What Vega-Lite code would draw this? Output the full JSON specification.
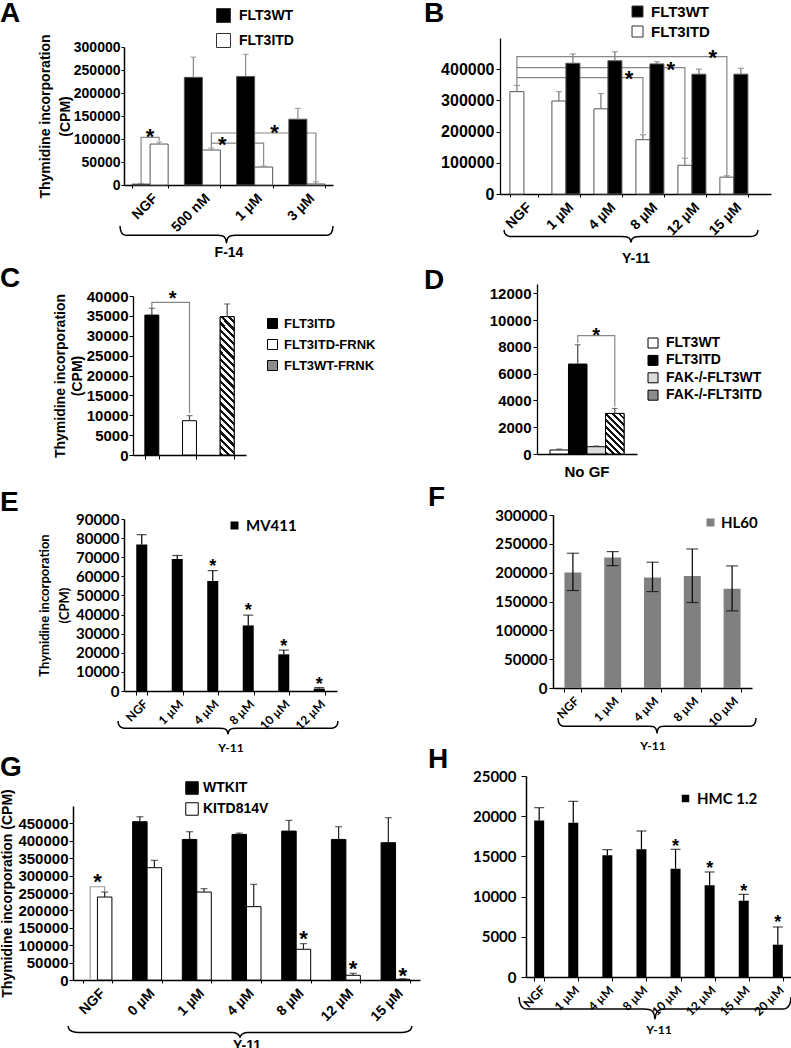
{
"$schema": "https://vega.github.io/schema/vega-lite/v6.json",
"padding": 0,
"background": "white",
"datasets": {
"brace": [{"x":0,"y":0},{"x":0.002,"y":0.2},{"x":0.007,"y":0.38},{"x":0.015,"y":0.49},{"x":0.03,"y":0.55},{"x":0.46,"y":0.55},{"x":0.478,"y":0.57},{"x":0.49,"y":0.65},{"x":0.497,"y":0.8},{"x":0.5,"y":1},{"x":0.503,"y":0.8},{"x":0.51,"y":0.65},{"x":0.522,"y":0.57},{"x":0.54,"y":0.55},{"x":0.97,"y":0.55},{"x":0.985,"y":0.49},{"x":0.993,"y":0.38},{"x":0.998,"y":0.2},{"x":1,"y":0}],
"A_bars": [
{"cat":"NGF","grp":"FLT3WT","v":2000,"hi":3600},
{"cat":"NGF","grp":"FLT3ITD","v":89000,"hi":93500},
{"cat":"500 nM","grp":"FLT3WT","v":234000,"hi":278000},
{"cat":"500 nM","grp":"FLT3ITD","v":76000,"hi":80500},
{"cat":"1 µM","grp":"FLT3WT","v":236000,"hi":284000},
{"cat":"1 µM","grp":"FLT3ITD","v":39000,"hi":41500},
{"cat":"3 µM","grp":"FLT3WT","v":143000,"hi":166500},
{"cat":"3 µM","grp":"FLT3ITD","v":2200,"hi":7000}],
"A_br": [
{"b":1,"o":1,"cat":"NGF","grp":"FLT3WT","v":4000},
{"b":1,"o":2,"cat":"NGF","grp":"FLT3WT","v":103500},
{"b":1,"o":3,"cat":"NGF","grp":"FLT3ITD","v":103500},
{"b":1,"o":4,"cat":"NGF","grp":"FLT3ITD","v":96000},
{"b":2,"o":1,"cat":"500 nM","grp":"FLT3ITD","v":82000},
{"b":2,"o":2,"cat":"500 nM","grp":"FLT3ITD","v":91000},
{"b":2,"o":3,"cat":"1 µM","grp":"FLT3ITD","v":91000},
{"b":2,"o":4,"cat":"1 µM","grp":"FLT3ITD","v":43000},
{"b":3,"o":1,"cat":"500 nM","grp":"FLT3ITD","v":91000},
{"b":3,"o":2,"cat":"500 nM","grp":"FLT3ITD","v":113000},
{"b":3,"o":3,"cat":"3 µM","grp":"FLT3ITD","v":113000},
{"b":3,"o":4,"cat":"3 µM","grp":"FLT3ITD","v":8000}],
"A_st1": [{"cat":"NGF","v":116000}],
"A_st2": [{"cat":"500 nM","v":98500},{"cat":"1 µM","v":124000}],
"B_bars": [
{"cat":"NGF","grp":"FLT3ITD","v":328000,"hi":348000},
{"cat":"1 µM","grp":"FLT3ITD","v":298000,"hi":328000},
{"cat":"1 µM","grp":"FLT3WT","v":419000,"hi":449000},
{"cat":"4 µM","grp":"FLT3ITD","v":273000,"hi":322000},
{"cat":"4 µM","grp":"FLT3WT","v":427000,"hi":456000},
{"cat":"8 µM","grp":"FLT3ITD","v":174000,"hi":190000},
{"cat":"8 µM","grp":"FLT3WT","v":417000,"hi":424000},
{"cat":"12 µM","grp":"FLT3ITD","v":92000,"hi":115000},
{"cat":"12 µM","grp":"FLT3WT","v":384000,"hi":400000},
{"cat":"15 µM","grp":"FLT3ITD","v":54000,"hi":58500},
{"cat":"15 µM","grp":"FLT3WT","v":384000,"hi":403000}],
"B_br": [
{"b":1,"o":1,"cat":"NGF","grp":"FLT3ITD","v":350000},
{"b":1,"o":2,"cat":"NGF","grp":"FLT3ITD","v":373000},
{"b":1,"o":3,"cat":"8 µM","grp":"FLT3ITD","v":373000},
{"b":1,"o":4,"cat":"8 µM","grp":"FLT3ITD","v":193000},
{"b":2,"o":1,"cat":"NGF","grp":"FLT3ITD","v":373000},
{"b":2,"o":2,"cat":"NGF","grp":"FLT3ITD","v":405000},
{"b":2,"o":3,"cat":"12 µM","grp":"FLT3ITD","v":405000},
{"b":2,"o":4,"cat":"12 µM","grp":"FLT3ITD","v":118000},
{"b":3,"o":1,"cat":"NGF","grp":"FLT3ITD","v":405000},
{"b":3,"o":2,"cat":"NGF","grp":"FLT3ITD","v":440000},
{"b":3,"o":3,"cat":"15 µM","grp":"FLT3ITD","v":440000},
{"b":3,"o":4,"cat":"15 µM","grp":"FLT3ITD","v":61000}],
"B_st": [{"cat":"4 µM","v":385000},{"cat":"8 µM","v":414000},{"cat":"12 µM","v":453000}],
"C_bars": [
{"grp":"FLT3ITD","v":35200,"hi":36900},
{"grp":"FLT3ITD-FRNK","v":8630,"hi":9900},
{"grp":"FLT3WT-FRNK","v":34800,"hi":38000}],
"C_br": [
{"b":1,"o":1,"grp":"FLT3ITD","v":37000},
{"b":1,"o":2,"grp":"FLT3ITD","v":38400},
{"b":1,"o":3,"grp":"FLT3ITD-FRNK","v":38400},
{"b":1,"o":4,"grp":"FLT3ITD-FRNK","v":10500}],
"C_st": [{"grp":"FLT3ITD","v":40500}],
"D_bars": [
{"cat":"No GF","grp":"FLT3WT","v":300,"hi":370},
{"cat":"No GF","grp":"FLT3ITD","v":6720,"hi":8160},
{"cat":"No GF","grp":"FAK-/-FLT3WT","v":545,"hi":600},
{"cat":"No GF","grp":"FAK-/-FLT3ITD","v":3030,"hi":3400}],
"D_br": [
{"b":1,"o":1,"cat":"No GF","grp":"FLT3ITD","v":8300},
{"b":1,"o":2,"cat":"No GF","grp":"FLT3ITD","v":8840},
{"b":1,"o":3,"cat":"No GF","grp":"FAK-/-FLT3ITD","v":8840},
{"b":1,"o":4,"cat":"No GF","grp":"FAK-/-FLT3ITD","v":3550}],
"D_st": [{"cat":"No GF","grp":"FAK-/-FLT3WT","v":9200}],
"E_bars": [
{"cat":"NGF","grp":"MV411","v":76600,"hi":81800},
{"cat":"1 µM","grp":"MV411","v":69100,"hi":70900},
{"cat":"4 µM","grp":"MV411","v":57500,"hi":63000},
{"cat":"8 µM","grp":"MV411","v":34300,"hi":39700},
{"cat":"10 µM","grp":"MV411","v":19200,"hi":21400},
{"cat":"12 µM","grp":"MV411","v":1250,"hi":1800}],
"E_st": [{"cat":"4 µM","v":67000},{"cat":"8 µM","v":43900},{"cat":"10 µM","v":24900},{"cat":"12 µM","v":5200}],
"F_bars": [
{"cat":"NGF","grp":"HL60","v":200100,"lo":169000,"hi":233700},
{"cat":"1 µM","grp":"HL60","v":226100,"lo":212200,"hi":236500},
{"cat":"4 µM","grp":"HL60","v":191500,"lo":167200,"hi":218100},
{"cat":"8 µM","grp":"HL60","v":194400,"lo":148200,"hi":241100},
{"cat":"10 µM","grp":"HL60","v":171900,"lo":133800,"hi":211700}],
"G_bars": [
{"cat":"NGF","grp":"KITD814V","v":238400,"hi":252700},
{"cat":"0 µM","grp":"WTKIT","v":454800,"hi":469200},
{"cat":"0 µM","grp":"KITD814V","v":322700,"hi":343800},
{"cat":"1 µM","grp":"WTKIT","v":404000,"hi":426100},
{"cat":"1 µM","grp":"KITD814V","v":252700,"hi":262400},
{"cat":"4 µM","grp":"WTKIT","v":418400,"hi":422100},
{"cat":"4 µM","grp":"KITD814V","v":210800,"hi":274800},
{"cat":"8 µM","grp":"WTKIT","v":427900,"hi":458600},
{"cat":"8 µM","grp":"KITD814V","v":88200,"hi":104500},
{"cat":"12 µM","grp":"WTKIT","v":404000,"hi":440500},
{"cat":"12 µM","grp":"KITD814V","v":13500,"hi":19200},
{"cat":"15 µM","grp":"WTKIT","v":394600,"hi":466400},
{"cat":"15 µM","grp":"KITD814V","v":2000,"hi":3500}],
"G_br": [
{"b":1,"o":1,"cat":"NGF","grp":"WTKIT","v":2000},
{"b":1,"o":2,"cat":"NGF","grp":"WTKIT","v":268000},
{"b":1,"o":3,"cat":"NGF","grp":"KITD814V","v":268000},
{"b":1,"o":4,"cat":"NGF","grp":"KITD814V","v":255000}],
"G_st1": [{"cat":"NGF","v":297000}],
"G_st2": [{"cat":"8 µM","grp":"KITD814V","v":131000},{"cat":"12 µM","grp":"KITD814V","v":45000},{"cat":"15 µM","grp":"KITD814V","v":25800}],
"H_bars": [
{"cat":"NGF","grp":"HMC 1.2","v":19480,"hi":21060},
{"cat":"1 µM","grp":"HMC 1.2","v":19200,"hi":21850},
{"cat":"4 µM","grp":"HMC 1.2","v":15130,"hi":15840},
{"cat":"8 µM","grp":"HMC 1.2","v":15880,"hi":18160},
{"cat":"10 µM","grp":"HMC 1.2","v":13470,"hi":15880},
{"cat":"12 µM","grp":"HMC 1.2","v":11400,"hi":13060},
{"cat":"15 µM","grp":"HMC 1.2","v":9490,"hi":10280},
{"cat":"20 µM","grp":"HMC 1.2","v":4020,"hi":6220}],
"H_st": [{"cat":"10 µM","v":16700},{"cat":"12 µM","v":13880},{"cat":"15 µM","v":11070},{"cat":"20 µM","v":7250}]
},
"spacing": -47,
"resolve": {"scale": {"color": "independent", "xOffset": "independent"}, "legend": {"color": "independent"}},
"hconcat": [
{"spacing": 6, "resolve": {"scale": {"color": "independent", "xOffset": "independent"}, "legend": {"color": "independent"}}, "vconcat": [
{
"width": 209, "height": 147,
"title": {"text": "A", "dx": -124, "dy": 24},
"layer": [
{"layer": [
{"data": {"name": "A_br"}, "mark": {"type": "line", "color": "#888", "strokeWidth": 1.2},
"encoding": {
"x": {"field":"cat","type":"nominal","scale":{"domain":["NGF","500 nM","1 µM","3 µM"],"paddingInner":0.31,"paddingOuter":0.155},"axis":{"labelAngle":-45,"labelFontSize":14,"labelPadding":3,"tickBand":"extent","tickSize":3,"domainWidth":1.5,"title":"F-14","titleFontSize":14,"titleY":67,"titleBaseline":"middle"}},
"xOffset": {"field":"grp","type":"nominal","scale":{"domain":["FLT3WT","FLT3ITD"]}},
"y": {"field":"v","type":"quantitative","scale":{"domain":[0,300000],"range":[147,9],"nice":false},"axis":{"values":[0,50000,100000,150000,200000,250000,300000],"labelOverlap":false,"labelSeparation":-200,"format":"d","labelFontSize":14,"tickSize":3,"labelPadding":1,"domainWidth":1.5,"title":["Thymidine incorporation","(CPM)"],"titleFontSize":14,"titleLineHeight":20,"titlePadding":1}},
"detail": {"field":"b","type":"nominal"},
"order": {"field":"o","type":"quantitative"}}},
{"data": {"name": "A_bars"}, "mark": {"type": "bar", "stroke": "#555", "strokeWidth": 1},
"encoding": {
"x": {"field":"cat","type":"nominal","scale":{"domain":["NGF","500 nM","1 µM","3 µM"],"paddingInner":0.31,"paddingOuter":0.155},"axis":{"labelAngle":-45,"labelFontSize":14,"labelPadding":3,"tickBand":"extent","tickSize":3,"domainWidth":1.5,"title":"F-14","titleFontSize":14,"titleY":67,"titleBaseline":"middle"}},
"xOffset": {"field":"grp","type":"nominal","scale":{"domain":["FLT3WT","FLT3ITD"]}},
"y": {"field":"v","type":"quantitative","scale":{"domain":[0,300000],"range":[147,9],"nice":false},"axis":{"values":[0,50000,100000,150000,200000,250000,300000],"labelOverlap":false,"labelSeparation":-200,"format":"d","labelFontSize":14,"tickSize":3,"labelPadding":1,"domainWidth":1.5,"title":["Thymidine incorporation","(CPM)"],"titleFontSize":14,"titleLineHeight":20,"titlePadding":1}},
"color": {"field":"grp","type":"nominal","scale":{"domain":["FLT3WT","FLT3ITD"],"range":["black","white"]},
"legend":{"title":null,"orient":"none","legendX":92,"legendY":-30,"symbolType":"square","symbolSize":196,"symbolStrokeColor":"#333","symbolStrokeWidth":1,"labelFontSize":14,"labelOffset":8,"rowPadding":6}}}},
{"data": {"name": "A_bars"}, "mark": {"type": "rule", "color": "#888", "strokeWidth": 1.2},
"encoding": {
"x": {"field":"cat","type":"nominal","scale":{"domain":["NGF","500 nM","1 µM","3 µM"],"paddingInner":0.31,"paddingOuter":0.155}},
"xOffset": {"field":"grp","type":"nominal","scale":{"domain":["FLT3WT","FLT3ITD"]}},
"y": {"field":"v","type":"quantitative","scale":{"domain":[0,300000],"range":[147,9],"nice":false},"axis":{"values":[0,50000,100000,150000,200000,250000,300000],"labelOverlap":false,"labelSeparation":-200,"format":"d","labelFontSize":14,"tickSize":3,"labelPadding":1,"domainWidth":1.5,"title":["Thymidine incorporation","(CPM)"],"titleFontSize":14,"titleLineHeight":20,"titlePadding":1}},
"y2": {"field":"hi"}}},
{"data": {"name": "A_bars"}, "mark": {"type": "tick", "color": "#888", "size": 6, "thickness": 1.2},
"encoding": {
"x": {"field":"cat","type":"nominal","scale":{"domain":["NGF","500 nM","1 µM","3 µM"],"paddingInner":0.31,"paddingOuter":0.155}},
"xOffset": {"field":"grp","type":"nominal","scale":{"domain":["FLT3WT","FLT3ITD"]}},
"y": {"field":"hi","type":"quantitative","scale":{"domain":[0,300000],"range":[147,9],"nice":false},"axis":{"values":[0,50000,100000,150000,200000,250000,300000],"labelOverlap":false,"labelSeparation":-200,"format":"d","labelFontSize":14,"tickSize":3,"labelPadding":1,"domainWidth":1.5,"title":["Thymidine incorporation","(CPM)"],"titleFontSize":14,"titleLineHeight":20,"titlePadding":1}}}},
{"data": {"name": "A_st1"}, "mark": {"type": "text", "text": "*", "fontSize": 22, "fontWeight": "bold", "baseline": "middle", "dy": 5, "fill": "black"},
"encoding": {
"x": {"field":"cat","type":"nominal","scale":{"domain":["NGF","500 nM","1 µM","3 µM"],"paddingInner":0.31,"paddingOuter":0.155}},
"y": {"field":"v","type":"quantitative","scale":{"domain":[0,300000],"range":[147,9],"nice":false},"axis":{"values":[0,50000,100000,150000,200000,250000,300000],"labelOverlap":false,"labelSeparation":-200,"format":"d","labelFontSize":14,"tickSize":3,"labelPadding":1,"domainWidth":1.5,"title":["Thymidine incorporation","(CPM)"],"titleFontSize":14,"titleLineHeight":20,"titlePadding":1}}}},
{"data": {"name": "A_st2"}, "mark": {"type": "text", "text": "*", "fontSize": 22, "fontWeight": "bold", "baseline": "middle", "dy": 5, "fill": "black"},
"encoding": {
"x": {"field":"cat","type":"nominal","bandPosition":1.05,"scale":{"domain":["NGF","500 nM","1 µM","3 µM"],"paddingInner":0.31,"paddingOuter":0.155}},
"y": {"field":"v","type":"quantitative","scale":{"domain":[0,300000],"range":[147,9],"nice":false},"axis":{"values":[0,50000,100000,150000,200000,250000,300000],"labelOverlap":false,"labelSeparation":-200,"format":"d","labelFontSize":14,"tickSize":3,"labelPadding":1,"domainWidth":1.5,"title":["Thymidine incorporation","(CPM)"],"titleFontSize":14,"titleLineHeight":20,"titlePadding":1}}}}
]},
{"data": {"name": "brace"}, "mark": {"type": "line", "interpolate": "monotone", "color": "black", "strokeWidth": 1.5},
"encoding": {
"x": {"field":"x","type":"quantitative","scale":{"domain":[0,1],"range":[-4,209],"nice":false,"zero":false},"axis":null},
"y": {"field":"y","type":"quantitative","scale":{"domain":[0,1],"range":[188,205],"nice":false,"zero":false},"axis":null}}}
],
"resolve": {"scale": {"x": "independent", "y": "independent"}}
},
{"spacing": 26, "resolve": {"scale": {"color": "independent", "xOffset": "independent"}, "legend": {"color": "independent"}}, "vconcat": [
{
"width": 122, "height": 159,
"title": {"text": "C", "dx": -124, "dy": 8},
"layer": [
{"data": {"name": "C_br"}, "mark": {"type": "line", "color": "#888", "strokeWidth": 1.2},
"encoding": {
"x": {"field":"grp","type":"nominal","scale":{"domain":["FLT3ITD","FLT3ITD-FRNK","FLT3WT-FRNK"],"range":[9,122],"paddingInner":0.63,"paddingOuter":0.315},"axis":{"labels":false,"tickBand":"extent","tickSize":4,"domainWidth":1.3,"title":null}},
"y": {"field":"v","type":"quantitative","scale":{"domain":[0,40000],"nice":false},"axis":{"offset":-9,"values":[0,5000,10000,15000,20000,25000,30000,35000,40000],"labelOverlap":false,"labelSeparation":-200,"format":"d","labelFontSize":15,"tickSize":4,"labelPadding":1,"domainWidth":1.3,"title":["Thymidine incorporation","(CPM)"],"titleFontSize":14,"titleLineHeight":17,"titlePadding":2}},
"detail": {"field":"b","type":"nominal"},
"order": {"field":"o","type":"quantitative"}}},
{"data": {"name": "C_bars"}, "mark": {"type": "bar", "stroke": "black", "strokeWidth": 1},
"encoding": {
"x": {"field":"grp","type":"nominal","scale":{"domain":["FLT3ITD","FLT3ITD-FRNK","FLT3WT-FRNK"],"range":[9,122],"paddingInner":0.63,"paddingOuter":0.315},"axis":{"labels":false,"tickBand":"extent","tickSize":4,"domainWidth":1.3,"title":null}},
"y": {"field":"v","type":"quantitative","scale":{"domain":[0,40000],"nice":false},"axis":{"offset":-9,"values":[0,5000,10000,15000,20000,25000,30000,35000,40000],"labelOverlap":false,"labelSeparation":-200,"format":"d","labelFontSize":15,"tickSize":4,"labelPadding":1,"domainWidth":1.3,"title":["Thymidine incorporation","(CPM)"],"titleFontSize":14,"titleLineHeight":17,"titlePadding":2}},
"color": {"field":"grp","type":"nominal","scale":{"domain":["FLT3ITD","FLT3ITD-FRNK","FLT3WT-FRNK"],"range":["black","white","#8c8c8c"]},
"legend":{"title":null,"orient":"none","legendX":142,"legendY":21,"symbolType":"square","symbolSize":100,"symbolStrokeColor":"black","symbolStrokeWidth":1,"labelFontSize":13,"labelOffset":5,"rowPadding":6}}}},
{"data": {"name": "C_bars"}, "transform": [{"filter": "datum.grp === 'FLT3WT-FRNK'"}],
"mark": {"type": "bar", "stroke": "black", "strokeWidth": 1,
"fill": {"gradient":"linear","x1":0,"y1":1,"x2":0.1106,"y2":-0.09,"stops":[
{"offset":0,"color":"#111"},{"offset":0.0214,"color":"#111"},{"offset":0.0214,"color":"#fff"},{"offset":0.0476,"color":"#fff"},
{"offset":0.0476,"color":"#111"},{"offset":0.069,"color":"#111"},{"offset":0.069,"color":"#fff"},{"offset":0.0952,"color":"#fff"},
{"offset":0.0952,"color":"#111"},{"offset":0.1167,"color":"#111"},{"offset":0.1167,"color":"#fff"},{"offset":0.1429,"color":"#fff"},
{"offset":0.1429,"color":"#111"},{"offset":0.1643,"color":"#111"},{"offset":0.1643,"color":"#fff"},{"offset":0.1905,"color":"#fff"},
{"offset":0.1905,"color":"#111"},{"offset":0.2119,"color":"#111"},{"offset":0.2119,"color":"#fff"},{"offset":0.2381,"color":"#fff"},
{"offset":0.2381,"color":"#111"},{"offset":0.2595,"color":"#111"},{"offset":0.2595,"color":"#fff"},{"offset":0.2857,"color":"#fff"},
{"offset":0.2857,"color":"#111"},{"offset":0.3071,"color":"#111"},{"offset":0.3071,"color":"#fff"},{"offset":0.3333,"color":"#fff"},
{"offset":0.3333,"color":"#111"},{"offset":0.3548,"color":"#111"},{"offset":0.3548,"color":"#fff"},{"offset":0.381,"color":"#fff"},
{"offset":0.381,"color":"#111"},{"offset":0.4024,"color":"#111"},{"offset":0.4024,"color":"#fff"},{"offset":0.4286,"color":"#fff"},
{"offset":0.4286,"color":"#111"},{"offset":0.45,"color":"#111"},{"offset":0.45,"color":"#fff"},{"offset":0.4762,"color":"#fff"},
{"offset":0.4762,"color":"#111"},{"offset":0.4976,"color":"#111"},{"offset":0.4976,"color":"#fff"},{"offset":0.5238,"color":"#fff"},
{"offset":0.5238,"color":"#111"},{"offset":0.5452,"color":"#111"},{"offset":0.5452,"color":"#fff"},{"offset":0.5714,"color":"#fff"},
{"offset":0.5714,"color":"#111"},{"offset":0.5929,"color":"#111"},{"offset":0.5929,"color":"#fff"},{"offset":0.619,"color":"#fff"},
{"offset":0.619,"color":"#111"},{"offset":0.6405,"color":"#111"},{"offset":0.6405,"color":"#fff"},{"offset":0.6667,"color":"#fff"},
{"offset":0.6667,"color":"#111"},{"offset":0.6881,"color":"#111"},{"offset":0.6881,"color":"#fff"},{"offset":0.7143,"color":"#fff"},
{"offset":0.7143,"color":"#111"},{"offset":0.7357,"color":"#111"},{"offset":0.7357,"color":"#fff"},{"offset":0.7619,"color":"#fff"},
{"offset":0.7619,"color":"#111"},{"offset":0.7833,"color":"#111"},{"offset":0.7833,"color":"#fff"},{"offset":0.8095,"color":"#fff"},
{"offset":0.8095,"color":"#111"},{"offset":0.831,"color":"#111"},{"offset":0.831,"color":"#fff"},{"offset":0.8571,"color":"#fff"},
{"offset":0.8571,"color":"#111"},{"offset":0.8786,"color":"#111"},{"offset":0.8786,"color":"#fff"},{"offset":0.9048,"color":"#fff"},
{"offset":0.9048,"color":"#111"},{"offset":0.9262,"color":"#111"},{"offset":0.9262,"color":"#fff"},{"offset":0.9524,"color":"#fff"},
{"offset":0.9524,"color":"#111"},{"offset":0.9738,"color":"#111"},{"offset":0.9738,"color":"#fff"},{"offset":1,"color":"#fff"}]}},
"encoding": {
"x": {"field":"grp","type":"nominal","scale":{"domain":["FLT3ITD","FLT3ITD-FRNK","FLT3WT-FRNK"],"range":[9,122],"paddingInner":0.63,"paddingOuter":0.315}},
"y": {"field":"v","type":"quantitative","scale":{"domain":[0,40000],"nice":false},"axis":{"offset":-9,"values":[0,5000,10000,15000,20000,25000,30000,35000,40000],"labelOverlap":false,"labelSeparation":-200,"format":"d","labelFontSize":15,"tickSize":4,"labelPadding":1,"domainWidth":1.3,"title":["Thymidine incorporation","(CPM)"],"titleFontSize":14,"titleLineHeight":17,"titlePadding":2}}}},
{"data": {"name": "C_bars"}, "mark": {"type": "rule", "color": "#444", "strokeWidth": 1.2},
"encoding": {
"x": {"field":"grp","type":"nominal","scale":{"domain":["FLT3ITD","FLT3ITD-FRNK","FLT3WT-FRNK"],"range":[9,122],"paddingInner":0.63,"paddingOuter":0.315}},
"y": {"field":"v","type":"quantitative","scale":{"domain":[0,40000],"nice":false},"axis":{"offset":-9,"values":[0,5000,10000,15000,20000,25000,30000,35000,40000],"labelOverlap":false,"labelSeparation":-200,"format":"d","labelFontSize":15,"tickSize":4,"labelPadding":1,"domainWidth":1.3,"title":["Thymidine incorporation","(CPM)"],"titleFontSize":14,"titleLineHeight":17,"titlePadding":2}},
"y2": {"field":"hi"}}},
{"data": {"name": "C_bars"}, "mark": {"type": "tick", "color": "#444", "size": 6, "thickness": 1.2},
"encoding": {
"x": {"field":"grp","type":"nominal","scale":{"domain":["FLT3ITD","FLT3ITD-FRNK","FLT3WT-FRNK"],"range":[9,122],"paddingInner":0.63,"paddingOuter":0.315}},
"y": {"field":"hi","type":"quantitative","scale":{"domain":[0,40000],"nice":false},"axis":{"offset":-9,"values":[0,5000,10000,15000,20000,25000,30000,35000,40000],"labelOverlap":false,"labelSeparation":-200,"format":"d","labelFontSize":15,"tickSize":4,"labelPadding":1,"domainWidth":1.3,"title":["Thymidine incorporation","(CPM)"],"titleFontSize":14,"titleLineHeight":17,"titlePadding":2}}}},
{"data": {"name": "C_st"}, "mark": {"type": "text", "text": "*", "fontSize": 20, "fontWeight": "bold", "baseline": "middle", "dy": 5, "fill": "black"},
"encoding": {
"x": {"field":"grp","type":"nominal","bandPosition":2,"scale":{"domain":["FLT3ITD","FLT3ITD-FRNK","FLT3WT-FRNK"],"range":[9,122],"paddingInner":0.63,"paddingOuter":0.315}},
"y": {"field":"v","type":"quantitative","scale":{"domain":[0,40000],"nice":false},"axis":{"offset":-9,"values":[0,5000,10000,15000,20000,25000,30000,35000,40000],"labelOverlap":false,"labelSeparation":-200,"format":"d","labelFontSize":15,"tickSize":4,"labelPadding":1,"domainWidth":1.3,"title":["Thymidine incorporation","(CPM)"],"titleFontSize":14,"titleLineHeight":17,"titlePadding":2}}}}
]
},
{"spacing": 1, "resolve": {"scale": {"color": "independent", "xOffset": "independent"}, "legend": {"color": "independent"}}, "vconcat": [
{
"width": 213, "height": 172,
"title": {"text": "E", "dx": -124, "dy": 9},
"layer": [
{"layer": [
{"data": {"name": "E_bars"}, "mark": {"type": "bar", "color": "black"},
"encoding": {
"x": {"field":"cat","type":"nominal","scale":{"domain":["NGF","1 µM","4 µM","8 µM","10 µM","12 µM"],"paddingInner":0.69,"paddingOuter":0.345},"axis":{"labelAngle":-45,"labelFont":"Lato","labelFontSize":12,"labelPadding":3,"tickBand":"extent","tickSize":4,"domainWidth":1.5,"title":"Y-11","titleFont":"Lato","titleFontSize":12,"titleY":56,"titleBaseline":"middle"}},
"y": {"field":"v","type":"quantitative","scale":{"domain":[0,90000],"nice":false},"axis":{"values":[0,10000,20000,30000,40000,50000,60000,70000,80000,90000],"labelOverlap":false,"labelSeparation":-200,"format":"d","labelFont":"Lato","labelFontSize":15,"tickSize":3,"labelPadding":2,"domainWidth":1.5,"title":["Thymidine incorporation","(CPM)"],"titleFont":"Lato","titleFontSize":13,"titleLineHeight":20,"titlePadding":4}},
"color": {"field":"grp","type":"nominal","scale":{"domain":["MV411"],"range":["black"]},
"legend":{"title":null,"orient":"none","legendX":103,"legendY":-1,"symbolType":"square","symbolSize":64,"symbolStrokeWidth":0,"labelFont":"Lato","labelFontSize":15,"labelOffset":4}}}},
{"data": {"name": "E_bars"}, "mark": {"type": "rule", "color": "black", "strokeWidth": 1.2},
"encoding": {
"x": {"field":"cat","type":"nominal","scale":{"domain":["NGF","1 µM","4 µM","8 µM","10 µM","12 µM"],"paddingInner":0.69,"paddingOuter":0.345}},
"y": {"field":"v","type":"quantitative","scale":{"domain":[0,90000],"nice":false},"axis":{"values":[0,10000,20000,30000,40000,50000,60000,70000,80000,90000],"labelOverlap":false,"labelSeparation":-200,"format":"d","labelFont":"Lato","labelFontSize":15,"tickSize":3,"labelPadding":2,"domainWidth":1.5,"title":["Thymidine incorporation","(CPM)"],"titleFont":"Lato","titleFontSize":13,"titleLineHeight":20,"titlePadding":4}},
"y2": {"field":"hi"}}},
{"data": {"name": "E_bars"}, "mark": {"type": "tick", "color": "black", "size": 10, "thickness": 1.2},
"encoding": {
"x": {"field":"cat","type":"nominal","scale":{"domain":["NGF","1 µM","4 µM","8 µM","10 µM","12 µM"],"paddingInner":0.69,"paddingOuter":0.345}},
"y": {"field":"hi","type":"quantitative","scale":{"domain":[0,90000],"nice":false},"axis":{"values":[0,10000,20000,30000,40000,50000,60000,70000,80000,90000],"labelOverlap":false,"labelSeparation":-200,"format":"d","labelFont":"Lato","labelFontSize":15,"tickSize":3,"labelPadding":2,"domainWidth":1.5,"title":["Thymidine incorporation","(CPM)"],"titleFont":"Lato","titleFontSize":13,"titleLineHeight":20,"titlePadding":4}}}},
{"data": {"name": "E_st"}, "mark": {"type": "text", "text": "*", "fontSize": 18, "fontWeight": "bold", "baseline": "middle", "dy": 4, "fill": "black"},
"encoding": {
"x": {"field":"cat","type":"nominal","scale":{"domain":["NGF","1 µM","4 µM","8 µM","10 µM","12 µM"],"paddingInner":0.69,"paddingOuter":0.345}},
"y": {"field":"v","type":"quantitative","scale":{"domain":[0,90000],"nice":false},"axis":{"values":[0,10000,20000,30000,40000,50000,60000,70000,80000,90000],"labelOverlap":false,"labelSeparation":-200,"format":"d","labelFont":"Lato","labelFontSize":15,"tickSize":3,"labelPadding":2,"domainWidth":1.5,"title":["Thymidine incorporation","(CPM)"],"titleFont":"Lato","titleFontSize":13,"titleLineHeight":20,"titlePadding":4}}}}
]},
{"data": {"name": "brace"}, "mark": {"type": "line", "interpolate": "monotone", "color": "black", "strokeWidth": 1.5},
"encoding": {
"x": {"field":"x","type":"quantitative","scale":{"domain":[0,1],"range":[-6,214],"nice":false,"zero":false},"axis":null},
"y": {"field":"y","type":"quantitative","scale":{"domain":[0,1],"range":[202,215],"nice":false,"zero":false},"axis":null}}}
],
"resolve": {"scale": {"x": "independent", "y": "independent"}}
},
{
"width": 296, "height": 174,
"title": {"text": "G", "dx": -124, "dy": 5},
"layer": [
{"layer": [
{"data": {"name": "G_br"}, "mark": {"type": "line", "color": "#999", "strokeWidth": 1.2},
"encoding": {
"x": {"field":"cat","type":"nominal","scale":{"domain":["NGF","0 µM","1 µM","4 µM","8 µM","12 µM","15 µM"],"range":[-51,296],"paddingInner":0.417,"paddingOuter":0.2},"axis":{"labelAngle":-45,"labelFontSize":14,"labelPadding":3,"tickBand":"extent","tickSize":3,"domainWidth":1.5,"title":"Y-11","titleFontSize":14,"titleY":65,"titleBaseline":"middle"}},
"xOffset": {"field":"grp","type":"nominal","scale":{"domain":["WTKIT","KITD814V"]}},
"y": {"field":"v","type":"quantitative","scale":{"domain":[0,500000],"nice":false},"axis":{"offset":51,"values":[0,50000,100000,150000,200000,250000,300000,350000,400000,450000],"labelOverlap":false,"labelSeparation":-200,"format":"d","labelFontSize":15,"tickSize":4,"labelPadding":1,"domainWidth":1.5,"title":"Thymidine incorporation (CPM)","titleFontSize":14,"titlePadding":3}},
"detail": {"field":"b","type":"nominal"},
"order": {"field":"o","type":"quantitative"}}},
{"data": {"name": "G_bars"}, "mark": {"type": "bar", "stroke": "black", "strokeWidth": 1},
"encoding": {
"x": {"field":"cat","type":"nominal","scale":{"domain":["NGF","0 µM","1 µM","4 µM","8 µM","12 µM","15 µM"],"range":[-51,296],"paddingInner":0.417,"paddingOuter":0.2},"axis":{"labelAngle":-45,"labelFontSize":14,"labelPadding":3,"tickBand":"extent","tickSize":3,"domainWidth":1.5,"title":"Y-11","titleFontSize":14,"titleY":65,"titleBaseline":"middle"}},
"xOffset": {"field":"grp","type":"nominal","scale":{"domain":["WTKIT","KITD814V"]}},
"y": {"field":"v","type":"quantitative","scale":{"domain":[0,500000],"nice":false},"axis":{"offset":51,"values":[0,50000,100000,150000,200000,250000,300000,350000,400000,450000],"labelOverlap":false,"labelSeparation":-200,"format":"d","labelFontSize":15,"tickSize":4,"labelPadding":1,"domainWidth":1.5,"title":"Thymidine incorporation (CPM)","titleFontSize":14,"titlePadding":3}},
"color": {"field":"grp","type":"nominal","scale":{"domain":["WTKIT","KITD814V"],"range":["black","white"]},
"legend":{"title":null,"orient":"none","legendX":61,"legendY":-25,"symbolType":"square","symbolSize":156,"symbolStrokeColor":"black","symbolStrokeWidth":1,"labelFontSize":14,"labelOffset":4,"rowPadding":3}}}},
{"data": {"name": "G_bars"}, "mark": {"type": "rule", "color": "#222", "strokeWidth": 1.2},
"encoding": {
"x": {"field":"cat","type":"nominal","scale":{"domain":["NGF","0 µM","1 µM","4 µM","8 µM","12 µM","15 µM"],"range":[-51,296],"paddingInner":0.417,"paddingOuter":0.2}},
"xOffset": {"field":"grp","type":"nominal","scale":{"domain":["WTKIT","KITD814V"]}},
"y": {"field":"v","type":"quantitative","scale":{"domain":[0,500000],"nice":false},"axis":{"offset":51,"values":[0,50000,100000,150000,200000,250000,300000,350000,400000,450000],"labelOverlap":false,"labelSeparation":-200,"format":"d","labelFontSize":15,"tickSize":4,"labelPadding":1,"domainWidth":1.5,"title":"Thymidine incorporation (CPM)","titleFontSize":14,"titlePadding":3}},
"y2": {"field":"hi"}}},
{"data": {"name": "G_bars"}, "mark": {"type": "tick", "color": "#222", "size": 7, "thickness": 1.2},
"encoding": {
"x": {"field":"cat","type":"nominal","scale":{"domain":["NGF","0 µM","1 µM","4 µM","8 µM","12 µM","15 µM"],"range":[-51,296],"paddingInner":0.417,"paddingOuter":0.2}},
"xOffset": {"field":"grp","type":"nominal","scale":{"domain":["WTKIT","KITD814V"]}},
"y": {"field":"hi","type":"quantitative","scale":{"domain":[0,500000],"nice":false},"axis":{"offset":51,"values":[0,50000,100000,150000,200000,250000,300000,350000,400000,450000],"labelOverlap":false,"labelSeparation":-200,"format":"d","labelFontSize":15,"tickSize":4,"labelPadding":1,"domainWidth":1.5,"title":"Thymidine incorporation (CPM)","titleFontSize":14,"titlePadding":3}}}},
{"data": {"name": "G_st1"}, "mark": {"type": "text", "text": "*", "fontSize": 22, "fontWeight": "bold", "baseline": "middle", "dy": 5, "fill": "black"},
"encoding": {
"x": {"field":"cat","type":"nominal","scale":{"domain":["NGF","0 µM","1 µM","4 µM","8 µM","12 µM","15 µM"],"range":[-51,296],"paddingInner":0.417,"paddingOuter":0.2}},
"y": {"field":"v","type":"quantitative","scale":{"domain":[0,500000],"nice":false},"axis":{"offset":51,"values":[0,50000,100000,150000,200000,250000,300000,350000,400000,450000],"labelOverlap":false,"labelSeparation":-200,"format":"d","labelFontSize":15,"tickSize":4,"labelPadding":1,"domainWidth":1.5,"title":"Thymidine incorporation (CPM)","titleFontSize":14,"titlePadding":3}}}},
{"data": {"name": "G_st2"}, "mark": {"type": "text", "text": "*", "fontSize": 22, "fontWeight": "bold", "baseline": "middle", "dy": 5, "fill": "black"},
"encoding": {
"x": {"field":"cat","type":"nominal","scale":{"domain":["NGF","0 µM","1 µM","4 µM","8 µM","12 µM","15 µM"],"range":[-51,296],"paddingInner":0.417,"paddingOuter":0.2}},
"xOffset": {"field":"grp","type":"nominal","scale":{"domain":["WTKIT","KITD814V"]}},
"y": {"field":"v","type":"quantitative","scale":{"domain":[0,500000],"nice":false},"axis":{"offset":51,"values":[0,50000,100000,150000,200000,250000,300000,350000,400000,450000],"labelOverlap":false,"labelSeparation":-200,"format":"d","labelFontSize":15,"tickSize":4,"labelPadding":1,"domainWidth":1.5,"title":"Thymidine incorporation (CPM)","titleFontSize":14,"titlePadding":3}}}}
]},
{"data": {"name": "brace"}, "mark": {"type": "line", "interpolate": "monotone", "color": "black", "strokeWidth": 1.5},
"encoding": {
"x": {"field":"x","type":"quantitative","scale":{"domain":[0,1],"range":[-56,288],"nice":false,"zero":false},"axis":null},
"y": {"field":"y","type":"quantitative","scale":{"domain":[0,1],"range":[220,231.6],"nice":false,"zero":false},"axis":null}}}
],
"resolve": {"scale": {"x": "independent", "y": "independent"}}
}
]}
]}
]},
{"spacing": 2, "resolve": {"scale": {"color": "independent", "xOffset": "independent"}, "legend": {"color": "independent"}}, "vconcat": [
{
"width": 271, "height": 156,
"title": {"text": "B", "dx": -76, "dy": 28},
"layer": [
{"layer": [
{"data": {"name": "B_br"}, "mark": {"type": "line", "color": "#888", "strokeWidth": 1.2},
"encoding": {
"x": {"field":"cat","type":"nominal","scale":{"domain":["NGF","1 µM","4 µM","8 µM","12 µM","15 µM"],"paddingInner":0.333,"paddingOuter":0.393,"align":0.3},"axis":{"labelAngle":-45,"labelFontSize":14,"labelPadding":3,"tickBand":"extent","tickSize":3,"domainWidth":1.3,"title":"Y-11","titleFontSize":14,"titleY":64,"titleBaseline":"middle"}},
"xOffset": {"field":"grp","type":"nominal","scale":{"domain":["FLT3ITD","FLT3WT"]}},
"y": {"field":"v","type":"quantitative","scale":{"domain":[0,500000],"nice":false},"axis":{"values":[0,100000,200000,300000,400000],"labelOverlap":false,"labelSeparation":-200,"format":"d","labelFontSize":16,"tickSize":4,"labelPadding":2,"domainWidth":1.3,"title":null}},
"detail": {"field":"b","type":"nominal"},
"order": {"field":"o","type":"quantitative"}}},
{"data": {"name": "B_bars"}, "mark": {"type": "bar", "stroke": "#555", "strokeWidth": 1},
"encoding": {
"x": {"field":"cat","type":"nominal","scale":{"domain":["NGF","1 µM","4 µM","8 µM","12 µM","15 µM"],"paddingInner":0.333,"paddingOuter":0.393,"align":0.3},"axis":{"labelAngle":-45,"labelFontSize":14,"labelPadding":3,"tickBand":"extent","tickSize":3,"domainWidth":1.3,"title":"Y-11","titleFontSize":14,"titleY":64,"titleBaseline":"middle"}},
"xOffset": {"field":"grp","type":"nominal","scale":{"domain":["FLT3ITD","FLT3WT"]}},
"y": {"field":"v","type":"quantitative","scale":{"domain":[0,500000],"nice":false},"axis":{"values":[0,100000,200000,300000,400000],"labelOverlap":false,"labelSeparation":-200,"format":"d","labelFontSize":16,"tickSize":4,"labelPadding":2,"domainWidth":1.3,"title":null}},
"color": {"field":"grp","type":"nominal","scale":{"domain":["FLT3WT","FLT3ITD"],"range":["black","white"]},
"legend":{"title":null,"orient":"none","legendX":130,"legendY":-34,"symbolType":"square","symbolSize":121,"symbolStrokeColor":"#333","symbolStrokeWidth":1,"labelFontSize":15,"labelOffset":6,"rowPadding":4}}}},
{"data": {"name": "B_bars"}, "mark": {"type": "rule", "color": "#777", "strokeWidth": 1.2},
"encoding": {
"x": {"field":"cat","type":"nominal","scale":{"domain":["NGF","1 µM","4 µM","8 µM","12 µM","15 µM"],"paddingInner":0.333,"paddingOuter":0.393,"align":0.3}},
"xOffset": {"field":"grp","type":"nominal","scale":{"domain":["FLT3ITD","FLT3WT"]}},
"y": {"field":"v","type":"quantitative","scale":{"domain":[0,500000],"nice":false},"axis":{"values":[0,100000,200000,300000,400000],"labelOverlap":false,"labelSeparation":-200,"format":"d","labelFontSize":16,"tickSize":4,"labelPadding":2,"domainWidth":1.3,"title":null}},
"y2": {"field":"hi"}}},
{"data": {"name": "B_bars"}, "mark": {"type": "tick", "color": "#777", "size": 6, "thickness": 1.2},
"encoding": {
"x": {"field":"cat","type":"nominal","scale":{"domain":["NGF","1 µM","4 µM","8 µM","12 µM","15 µM"],"paddingInner":0.333,"paddingOuter":0.393,"align":0.3}},
"xOffset": {"field":"grp","type":"nominal","scale":{"domain":["FLT3ITD","FLT3WT"]}},
"y": {"field":"hi","type":"quantitative","scale":{"domain":[0,500000],"nice":false},"axis":{"values":[0,100000,200000,300000,400000],"labelOverlap":false,"labelSeparation":-200,"format":"d","labelFontSize":16,"tickSize":4,"labelPadding":2,"domainWidth":1.3,"title":null}}}},
{"data": {"name": "B_st"}, "mark": {"type": "text", "text": "*", "fontSize": 22, "fontWeight": "bold", "baseline": "middle", "dy": 5, "fill": "black"},
"encoding": {
"x": {"field":"cat","type":"nominal","bandPosition":1.25,"scale":{"domain":["NGF","1 µM","4 µM","8 µM","12 µM","15 µM"],"paddingInner":0.333,"paddingOuter":0.393,"align":0.3}},
"y": {"field":"v","type":"quantitative","scale":{"domain":[0,500000],"nice":false},"axis":{"values":[0,100000,200000,300000,400000],"labelOverlap":false,"labelSeparation":-200,"format":"d","labelFontSize":16,"tickSize":4,"labelPadding":2,"domainWidth":1.3,"title":null}}}}
]},
{"data": {"name": "brace"}, "mark": {"type": "line", "interpolate": "monotone", "color": "black", "strokeWidth": 1.5},
"encoding": {
"x": {"field":"x","type":"quantitative","scale":{"domain":[0,1],"range":[4,258],"nice":false,"zero":false},"axis":null},
"y": {"field":"y","type":"quantitative","scale":{"domain":[0,1],"range":[192,204],"nice":false,"zero":false},"axis":null}}}
],
"resolve": {"scale": {"x": "independent", "y": "independent"}}
},
{"spacing": 5, "resolve": {"scale": {"color": "independent", "xOffset": "independent"}, "legend": {"color": "independent"}}, "vconcat": [
{
"width": 137, "height": 170,
"title": {"text": "D", "dx": -76, "dy": 15},
"layer": [
{"data": {"name": "D_br"}, "mark": {"type": "line", "color": "#888", "strokeWidth": 1.2},
"encoding": {
"x": {"field":"cat","type":"nominal","scale":{"domain":["No GF"],"range":[37,137],"paddingInner":0,"paddingOuter":0.175},"axis":{"labelAngle":0,"labelFontSize":15,"labelPadding":10,"ticks":false,"domainWidth":1.3,"title":null}},
"xOffset": {"field":"grp","type":"nominal","scale":{"domain":["FLT3WT","FLT3ITD","FAK-/-FLT3WT","FAK-/-FLT3ITD"]}},
"y": {"field":"v","type":"quantitative","scale":{"domain":[0,12700],"nice":false},"axis":{"offset":-37,"values":[0,2000,4000,6000,8000,10000,12000],"labelOverlap":false,"labelSeparation":-200,"format":"d","labelFontSize":15,"tickSize":4,"labelPadding":2,"domainWidth":1.3,"title":null}},
"detail": {"field":"b","type":"nominal"},
"order": {"field":"o","type":"quantitative"}}},
{"data": {"name": "D_bars"}, "mark": {"type": "bar", "stroke": "black", "strokeWidth": 1},
"encoding": {
"x": {"field":"cat","type":"nominal","scale":{"domain":["No GF"],"range":[37,137],"paddingInner":0,"paddingOuter":0.175},"axis":{"labelAngle":0,"labelFontSize":15,"labelPadding":10,"ticks":false,"domainWidth":1.3,"title":null}},
"xOffset": {"field":"grp","type":"nominal","scale":{"domain":["FLT3WT","FLT3ITD","FAK-/-FLT3WT","FAK-/-FLT3ITD"]}},
"y": {"field":"v","type":"quantitative","scale":{"domain":[0,12700],"nice":false},"axis":{"offset":-37,"values":[0,2000,4000,6000,8000,10000,12000],"labelOverlap":false,"labelSeparation":-200,"format":"d","labelFontSize":15,"tickSize":4,"labelPadding":2,"domainWidth":1.3,"title":null}},
"color": {"field":"grp","type":"nominal","scale":{"domain":["FLT3WT","FLT3ITD","FAK-/-FLT3WT","FAK-/-FLT3ITD"],"range":["white","black","#dcdcdc","#8c8c8c"]},
"legend":{"title":null,"orient":"none","legendX":146,"legendY":52,"symbolType":"square","symbolSize":100,"symbolStrokeColor":"black","symbolStrokeWidth":1,"labelFontSize":14,"labelOffset":6,"rowPadding":3.4}}}},
{"data": {"name": "D_bars"}, "transform": [{"filter": "datum.grp === 'FAK-/-FLT3ITD'"}],
"mark": {"type": "bar", "stroke": "black", "strokeWidth": 1,
"fill": {"gradient":"linear","x1":0,"y1":1,"x2":0.549,"y2":-0.2055,"stops":[
{"offset":0,"color":"#111"},{"offset":0.05,"color":"#111"},{"offset":0.05,"color":"#fff"},{"offset":0.1111,"color":"#fff"},
{"offset":0.1111,"color":"#111"},{"offset":0.1611,"color":"#111"},{"offset":0.1611,"color":"#fff"},{"offset":0.2222,"color":"#fff"},
{"offset":0.2222,"color":"#111"},{"offset":0.2722,"color":"#111"},{"offset":0.2722,"color":"#fff"},{"offset":0.3333,"color":"#fff"},
{"offset":0.3333,"color":"#111"},{"offset":0.3833,"color":"#111"},{"offset":0.3833,"color":"#fff"},{"offset":0.4444,"color":"#fff"},
{"offset":0.4444,"color":"#111"},{"offset":0.4944,"color":"#111"},{"offset":0.4944,"color":"#fff"},{"offset":0.5556,"color":"#fff"},
{"offset":0.5556,"color":"#111"},{"offset":0.6056,"color":"#111"},{"offset":0.6056,"color":"#fff"},{"offset":0.6667,"color":"#fff"},
{"offset":0.6667,"color":"#111"},{"offset":0.7167,"color":"#111"},{"offset":0.7167,"color":"#fff"},{"offset":0.7778,"color":"#fff"},
{"offset":0.7778,"color":"#111"},{"offset":0.8278,"color":"#111"},{"offset":0.8278,"color":"#fff"},{"offset":0.8889,"color":"#fff"},
{"offset":0.8889,"color":"#111"},{"offset":0.9389,"color":"#111"},{"offset":0.9389,"color":"#fff"},{"offset":1,"color":"#fff"}]}},
"encoding": {
"x": {"field":"cat","type":"nominal","scale":{"domain":["No GF"],"range":[37,137],"paddingInner":0,"paddingOuter":0.175}},
"xOffset": {"field":"grp","type":"nominal","scale":{"domain":["FLT3WT","FLT3ITD","FAK-/-FLT3WT","FAK-/-FLT3ITD"]}},
"y": {"field":"v","type":"quantitative","scale":{"domain":[0,12700],"nice":false},"axis":{"offset":-37,"values":[0,2000,4000,6000,8000,10000,12000],"labelOverlap":false,"labelSeparation":-200,"format":"d","labelFontSize":15,"tickSize":4,"labelPadding":2,"domainWidth":1.3,"title":null}}}},
{"data": {"name": "D_bars"}, "mark": {"type": "rule", "color": "#444", "strokeWidth": 1.2},
"encoding": {
"x": {"field":"cat","type":"nominal","scale":{"domain":["No GF"],"range":[37,137],"paddingInner":0,"paddingOuter":0.175}},
"xOffset": {"field":"grp","type":"nominal","scale":{"domain":["FLT3WT","FLT3ITD","FAK-/-FLT3WT","FAK-/-FLT3ITD"]}},
"y": {"field":"v","type":"quantitative","scale":{"domain":[0,12700],"nice":false},"axis":{"offset":-37,"values":[0,2000,4000,6000,8000,10000,12000],"labelOverlap":false,"labelSeparation":-200,"format":"d","labelFontSize":15,"tickSize":4,"labelPadding":2,"domainWidth":1.3,"title":null}},
"y2": {"field":"hi"}}},
{"data": {"name": "D_bars"}, "mark": {"type": "tick", "color": "#444", "size": 6, "thickness": 1.2},
"encoding": {
"x": {"field":"cat","type":"nominal","scale":{"domain":["No GF"],"range":[37,137],"paddingInner":0,"paddingOuter":0.175}},
"xOffset": {"field":"grp","type":"nominal","scale":{"domain":["FLT3WT","FLT3ITD","FAK-/-FLT3WT","FAK-/-FLT3ITD"]}},
"y": {"field":"hi","type":"quantitative","scale":{"domain":[0,12700],"nice":false},"axis":{"offset":-37,"values":[0,2000,4000,6000,8000,10000,12000],"labelOverlap":false,"labelSeparation":-200,"format":"d","labelFontSize":15,"tickSize":4,"labelPadding":2,"domainWidth":1.3,"title":null}}}},
{"data": {"name": "D_st"}, "mark": {"type": "text", "text": "*", "fontSize": 20, "fontWeight": "bold", "baseline": "middle", "dy": 5, "fill": "black"},
"encoding": {
"x": {"field":"cat","type":"nominal","scale":{"domain":["No GF"],"range":[37,137],"paddingInner":0,"paddingOuter":0.175}},
"xOffset": {"field":"grp","type":"nominal","scale":{"domain":["FLT3WT","FLT3ITD","FAK-/-FLT3WT","FAK-/-FLT3ITD"]}},
"y": {"field":"v","type":"quantitative","scale":{"domain":[0,12700],"nice":false},"axis":{"offset":-37,"values":[0,2000,4000,6000,8000,10000,12000],"labelOverlap":false,"labelSeparation":-200,"format":"d","labelFontSize":15,"tickSize":4,"labelPadding":2,"domainWidth":1.3,"title":null}}}}
]
},
{"spacing": -5, "resolve": {"scale": {"color": "independent", "xOffset": "independent"}, "legend": {"color": "independent"}}, "vconcat": [
{
"width": 252, "height": 173,
"title": {"text": "F", "dx": -72, "dy": 8},
"layer": [
{"layer": [
{"data": {"name": "F_bars"}, "mark": {"type": "bar", "color": "#808080"},
"encoding": {
"x": {"field":"cat","type":"nominal","scale":{"domain":["NGF","1 µM","4 µM","8 µM","10 µM"],"range":[53,252],"paddingInner":0.574,"paddingOuter":0.287},"axis":{"labelAngle":-45,"labelFont":"Lato","labelFontSize":12,"labelPadding":3,"tickBand":"extent","tickSize":4,"domainWidth":1.5,"title":"Y-11","titleFont":"Lato","titleFontSize":12,"titleY":57,"titleBaseline":"middle"}},
"y": {"field":"v","type":"quantitative","scale":{"domain":[0,300000],"nice":false},"axis":{"offset":-53,"values":[0,50000,100000,150000,200000,250000,300000],"labelOverlap":false,"labelSeparation":-200,"format":"d","labelFont":"Lato","labelFontSize":15,"tickSize":4,"labelPadding":2,"domainWidth":1.5,"title":null}},
"color": {"field":"grp","type":"nominal","scale":{"domain":["HL60"],"range":["#808080"]},
"legend":{"title":null,"orient":"none","legendX":203,"legendY":0,"symbolType":"square","symbolSize":64,"symbolStrokeWidth":0,"labelFont":"Lato","labelFontSize":15,"labelOffset":3}}}},
{"data": {"name": "F_bars"}, "mark": {"type": "rule", "color": "black", "strokeWidth": 1.2},
"encoding": {
"x": {"field":"cat","type":"nominal","scale":{"domain":["NGF","1 µM","4 µM","8 µM","10 µM"],"range":[53,252],"paddingInner":0.574,"paddingOuter":0.287}},
"y": {"field":"lo","type":"quantitative","scale":{"domain":[0,300000],"nice":false},"axis":{"offset":-53,"values":[0,50000,100000,150000,200000,250000,300000],"labelOverlap":false,"labelSeparation":-200,"format":"d","labelFont":"Lato","labelFontSize":15,"tickSize":4,"labelPadding":2,"domainWidth":1.5,"title":null}},
"y2": {"field":"hi"}}},
{"data": {"name": "F_bars"}, "mark": {"type": "tick", "color": "black", "size": 12, "thickness": 1.2},
"encoding": {
"x": {"field":"cat","type":"nominal","scale":{"domain":["NGF","1 µM","4 µM","8 µM","10 µM"],"range":[53,252],"paddingInner":0.574,"paddingOuter":0.287}},
"y": {"field":"hi","type":"quantitative","scale":{"domain":[0,300000],"nice":false},"axis":{"offset":-53,"values":[0,50000,100000,150000,200000,250000,300000],"labelOverlap":false,"labelSeparation":-200,"format":"d","labelFont":"Lato","labelFontSize":15,"tickSize":4,"labelPadding":2,"domainWidth":1.5,"title":null}}}},
{"data": {"name": "F_bars"}, "mark": {"type": "tick", "color": "black", "size": 12, "thickness": 1.2},
"encoding": {
"x": {"field":"cat","type":"nominal","scale":{"domain":["NGF","1 µM","4 µM","8 µM","10 µM"],"range":[53,252],"paddingInner":0.574,"paddingOuter":0.287}},
"y": {"field":"lo","type":"quantitative","scale":{"domain":[0,300000],"nice":false},"axis":{"offset":-53,"values":[0,50000,100000,150000,200000,250000,300000],"labelOverlap":false,"labelSeparation":-200,"format":"d","labelFont":"Lato","labelFontSize":15,"tickSize":4,"labelPadding":2,"domainWidth":1.5,"title":null}}}}
]},
{"data": {"name": "brace"}, "mark": {"type": "line", "interpolate": "monotone", "color": "black", "strokeWidth": 1.5},
"encoding": {
"x": {"field":"x","type":"quantitative","scale":{"domain":[0,1],"range":[58,256],"nice":false,"zero":false},"axis":null},
"y": {"field":"y","type":"quantitative","scale":{"domain":[0,1],"range":[203,218],"nice":false,"zero":false},"axis":null}}}
],
"resolve": {"scale": {"x": "independent", "y": "independent"}}
},
{
"width": 291, "height": 201,
"title": {"text": "H", "dx": -72, "dy": 9},
"layer": [
{"layer": [
{"data": {"name": "H_bars"}, "mark": {"type": "bar", "color": "black"},
"encoding": {
"x": {"field":"cat","type":"nominal","scale":{"domain":["NGF","1 µM","4 µM","8 µM","10 µM","12 µM","15 µM","20 µM"],"range":[26,291],"paddingInner":0.707,"paddingOuter":0.24},"axis":{"labelAngle":-45,"labelFont":"Lato","labelFontSize":12,"labelPadding":3,"tickBand":"extent","tickSize":4,"domainWidth":1.5,"title":"Y-11","titleFont":"Lato","titleFontSize":12,"titleY":52,"titleBaseline":"middle"}},
"y": {"field":"v","type":"quantitative","scale":{"domain":[0,25000],"nice":false},"axis":{"offset":-26,"values":[0,5000,10000,15000,20000,25000],"labelOverlap":false,"labelSeparation":-200,"format":"d","labelFont":"Lato","labelFontSize":15,"tickSize":5,"labelPadding":5,"domainWidth":1.5,"title":null}},
"color": {"field":"grp","type":"nominal","scale":{"domain":["HMC 1.2"],"range":["black"]},
"legend":{"title":null,"orient":"none","legendX":178,"legendY":15,"symbolType":"square","symbolSize":56,"symbolStrokeWidth":0,"labelFont":"Lato","labelFontSize":15,"labelOffset":4}}}},
{"data": {"name": "H_bars"}, "mark": {"type": "rule", "color": "black", "strokeWidth": 1.2},
"encoding": {
"x": {"field":"cat","type":"nominal","scale":{"domain":["NGF","1 µM","4 µM","8 µM","10 µM","12 µM","15 µM","20 µM"],"range":[26,291],"paddingInner":0.707,"paddingOuter":0.24}},
"y": {"field":"v","type":"quantitative","scale":{"domain":[0,25000],"nice":false},"axis":{"offset":-26,"values":[0,5000,10000,15000,20000,25000],"labelOverlap":false,"labelSeparation":-200,"format":"d","labelFont":"Lato","labelFontSize":15,"tickSize":5,"labelPadding":5,"domainWidth":1.5,"title":null}},
"y2": {"field":"hi"}}},
{"data": {"name": "H_bars"}, "mark": {"type": "tick", "color": "black", "size": 10, "thickness": 1.2},
"encoding": {
"x": {"field":"cat","type":"nominal","scale":{"domain":["NGF","1 µM","4 µM","8 µM","10 µM","12 µM","15 µM","20 µM"],"range":[26,291],"paddingInner":0.707,"paddingOuter":0.24}},
"y": {"field":"hi","type":"quantitative","scale":{"domain":[0,25000],"nice":false},"axis":{"offset":-26,"values":[0,5000,10000,15000,20000,25000],"labelOverlap":false,"labelSeparation":-200,"format":"d","labelFont":"Lato","labelFontSize":15,"tickSize":5,"labelPadding":5,"domainWidth":1.5,"title":null}}}},
{"data": {"name": "H_st"}, "mark": {"type": "text", "text": "*", "fontSize": 18, "fontWeight": "bold", "baseline": "middle", "dy": 4, "fill": "black"},
"encoding": {
"x": {"field":"cat","type":"nominal","scale":{"domain":["NGF","1 µM","4 µM","8 µM","10 µM","12 µM","15 µM","20 µM"],"range":[26,291],"paddingInner":0.707,"paddingOuter":0.24}},
"y": {"field":"v","type":"quantitative","scale":{"domain":[0,25000],"nice":false},"axis":{"offset":-26,"values":[0,5000,10000,15000,20000,25000],"labelOverlap":false,"labelSeparation":-200,"format":"d","labelFont":"Lato","labelFontSize":15,"tickSize":5,"labelPadding":5,"domainWidth":1.5,"title":null}}}}
]},
{"data": {"name": "brace"}, "mark": {"type": "line", "interpolate": "monotone", "color": "black", "strokeWidth": 1.5},
"encoding": {
"x": {"field":"x","type":"quantitative","scale":{"domain":[0,1],"range":[19,291],"nice":false,"zero":false},"axis":null},
"y": {"field":"y","type":"quantitative","scale":{"domain":[0,1],"range":[221,243],"nice":false,"zero":false},"axis":null}}}
],
"resolve": {"scale": {"x": "independent", "y": "independent"}}
}
]}
]}
]}
],
"config": {
"view": {"stroke": null},
"font": "Liberation Sans",
"axis": {"grid": false, "domainColor": "black", "tickColor": "black", "labelColor": "black", "titleColor": "black", "labelFontWeight": "bold", "titleFontWeight": "bold", "labelFont": "Liberation Sans", "titleFont": "Liberation Sans", "labelOverlap": false},
"axisY": {"labelOverlap": false, "labelSeparation": -200},
"axisQuantitative": {"labelOverlap": false},
"legend": {"labelFontWeight": "bold", "labelColor": "black", "labelFont": "Liberation Sans", "padding": 0},
"text": {"font": "Liberation Sans"},
"title": {"font": "Liberation Sans", "fontWeight": "bold", "fontSize": 28, "color": "black", "anchor": "start", "frame": "group", "offset": 0, "baseline": "top"}
}
}
